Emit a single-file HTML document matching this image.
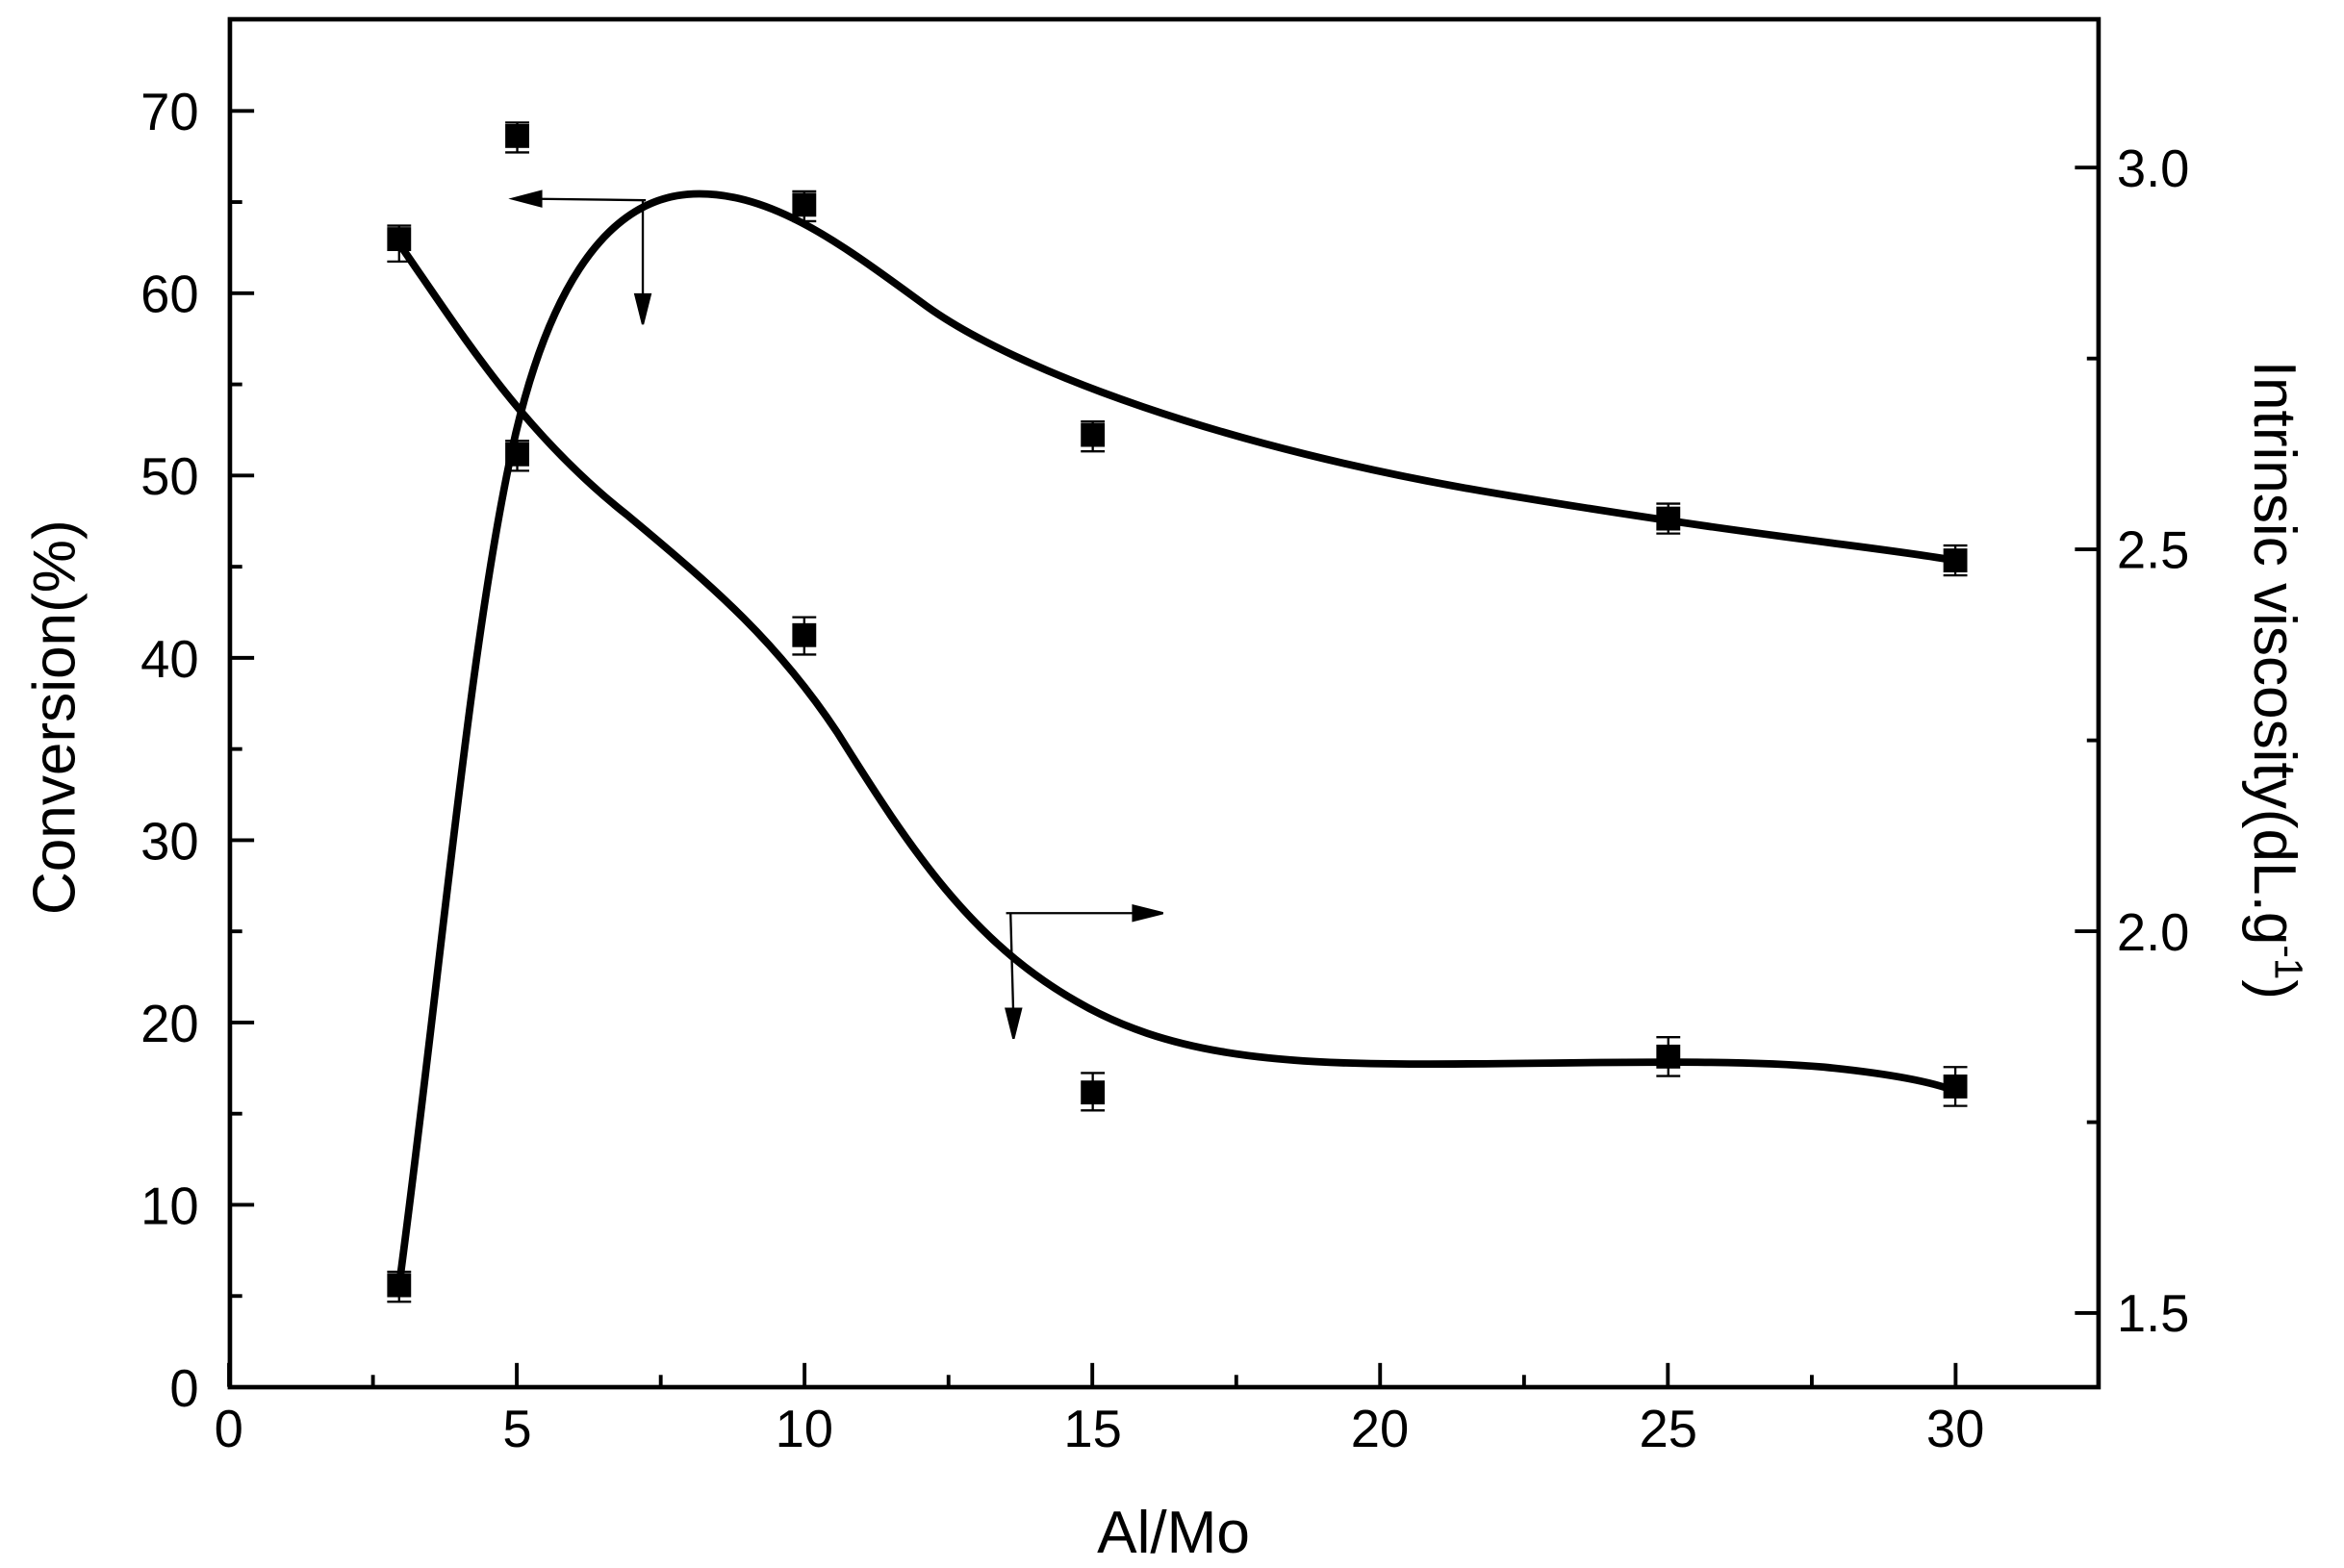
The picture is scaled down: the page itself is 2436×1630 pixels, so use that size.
<!DOCTYPE html>
<html><head><meta charset="utf-8"><style>html,body{margin:0;padding:0;background:#fff}svg{display:block}</style></head><body>
<svg width="2436" height="1630" viewBox="0 0 1568 1049.2" preserveAspectRatio="none" xmlns="http://www.w3.org/2000/svg" font-family="Liberation Sans, Arial, sans-serif">
<rect width="1568" height="1049.2" fill="#fff"/>
<g stroke="#000" stroke-width="3" fill="none">
<rect x="153.8" y="12.9" width="1250" height="915.3"/>
</g>
<g stroke="#000" stroke-width="2.5">
<line x1="153.2" y1="928" x2="153.2" y2="912"/><line x1="249.5" y1="928" x2="249.5" y2="920"/>
<line x1="345.7" y1="928" x2="345.7" y2="912"/><line x1="442" y1="928" x2="442" y2="920"/>
<line x1="538.2" y1="928" x2="538.2" y2="912"/><line x1="634.5" y1="928" x2="634.5" y2="920"/>
<line x1="730.7" y1="928" x2="730.7" y2="912"/><line x1="827" y1="928" x2="827" y2="920"/>
<line x1="923.2" y1="928" x2="923.2" y2="912"/><line x1="1019.5" y1="928" x2="1019.5" y2="920"/>
<line x1="1115.7" y1="928" x2="1115.7" y2="912"/><line x1="1212" y1="928" x2="1212" y2="920"/>
<line x1="1308.2" y1="928" x2="1308.2" y2="912"/>
<line x1="154" y1="928.2" x2="170" y2="928.2"/><line x1="154" y1="867.2" x2="162" y2="867.2"/>
<line x1="154" y1="806.2" x2="170" y2="806.2"/><line x1="154" y1="745.2" x2="162" y2="745.2"/>
<line x1="154" y1="684.2" x2="170" y2="684.2"/><line x1="154" y1="623.2" x2="162" y2="623.2"/>
<line x1="154" y1="562.2" x2="170" y2="562.2"/><line x1="154" y1="501.2" x2="162" y2="501.2"/>
<line x1="154" y1="440.2" x2="170" y2="440.2"/><line x1="154" y1="379.2" x2="162" y2="379.2"/>
<line x1="154" y1="318.2" x2="170" y2="318.2"/><line x1="154" y1="257.2" x2="162" y2="257.2"/>
<line x1="154" y1="196.2" x2="170" y2="196.2"/><line x1="154" y1="135.2" x2="162" y2="135.2"/>
<line x1="154" y1="74.2" x2="170" y2="74.2"/>
<line x1="1404" y1="878.6" x2="1388" y2="878.6"/><line x1="1404" y1="750.9" x2="1396" y2="750.9"/>
<line x1="1404" y1="623.1" x2="1388" y2="623.1"/><line x1="1404" y1="495.4" x2="1396" y2="495.4"/>
<line x1="1404" y1="367.6" x2="1388" y2="367.6"/><line x1="1404" y1="239.9" x2="1396" y2="239.9"/>
<line x1="1404" y1="112.1" x2="1388" y2="112.1"/>
</g>
<g font-size="35" fill="#000" text-anchor="middle">
<text x="153" y="968">0</text><text x="346" y="968">5</text><text x="538" y="968">10</text><text x="731" y="968">15</text><text x="923" y="968">20</text><text x="1116" y="968">25</text><text x="1308" y="968">30</text>
</g>
<g font-size="35" fill="#000" text-anchor="end">
<text x="133" y="941">0</text><text x="133" y="819">10</text><text x="133" y="697">20</text><text x="133" y="575">30</text><text x="133" y="453">40</text><text x="133" y="331">50</text><text x="133" y="209">60</text><text x="133" y="87">70</text>
</g>
<g font-size="35" fill="#000">
<text x="1416" y="891">1.5</text><text x="1416" y="636">2.0</text><text x="1416" y="380">2.5</text><text x="1416" y="125">3.0</text>
</g>
<text x="785" y="1039" font-size="40" text-anchor="middle">Al/Mo</text>
<text transform="translate(50,480) rotate(-90)" font-size="40" text-anchor="middle">Conversion(%)</text>
<text transform="translate(1508,455) rotate(90)" font-size="40" text-anchor="middle">Intrinsic viscosity(dL.g<tspan font-size="26" dy="-14">-1</tspan><tspan dy="14">)</tspan></text>
<g fill="none" stroke="#000" stroke-width="5" stroke-linejoin="round" stroke-linecap="round">
<path d="M267,860 C295,650 315,420 345,290 C365,205 400,135 460,130 C515,126 565,165 620,205 C680,248 820,300 1000,330 S1250,365 1308,375"/>
<path d="M267,163 C310,225 350,290 420,345 C480,395 520,430 560,490 C610,570 650,630 720,670 C780,705 850,712 950,712 C1050,712 1150,708 1220,714 C1260,718 1290,723 1308,730"/>
</g>
<g stroke="#000" stroke-width="1.5" fill="#000">
<line x1="432" y1="134" x2="355" y2="133"/><polygon points="343,133 362,128 362,138"/>
<line x1="430" y1="134" x2="430" y2="205"/><polygon points="430,217 425,197 435,197"/>
<line x1="673" y1="611" x2="766" y2="611"/><polygon points="778,611 758,606 758,616"/>
<line x1="676" y1="611" x2="678" y2="683"/><polygon points="678,695 673,675 683,675"/>
</g>
<g stroke="#000" stroke-width="1.5">
<path d="M267,851v20M259,851h16M259,871h16"/>
<path d="M346,295v20M338,295h16M338,315h16"/>
<path d="M538,128v20M530,128h16M530,148h16"/>
<path d="M731,282v20M723,282h16M723,302h16"/>
<path d="M1116,337v20M1108,337h16M1108,357h16"/>
<path d="M1308,365v20M1300,365h16M1300,385h16"/>
<path d="M267,151v24M259,151h16M259,175h16"/>
<path d="M346,82v20M338,82h16M338,102h16"/>
<path d="M538,413v25M530,413h16M530,438h16"/>
<path d="M731,718v25M723,718h16M723,743h16"/>
<path d="M1116,694v26M1108,694h16M1108,720h16"/>
<path d="M1308,714v26M1300,714h16M1300,740h16"/>
</g>
<g fill="#000">
<rect x="259" y="852" width="16" height="16"/><rect x="338" y="296" width="16" height="16"/><rect x="530" y="129" width="16" height="16"/><rect x="723" y="283" width="16" height="16"/><rect x="1108" y="339" width="16" height="16"/><rect x="1300" y="367" width="16" height="16"/>
<rect x="259" y="152" width="16" height="16"/><rect x="338" y="83" width="16" height="16"/><rect x="530" y="417" width="16" height="16"/><rect x="723" y="723" width="16" height="16"/><rect x="1108" y="699" width="16" height="16"/><rect x="1300" y="719" width="16" height="16"/>
</g>
</svg>
</body></html>
